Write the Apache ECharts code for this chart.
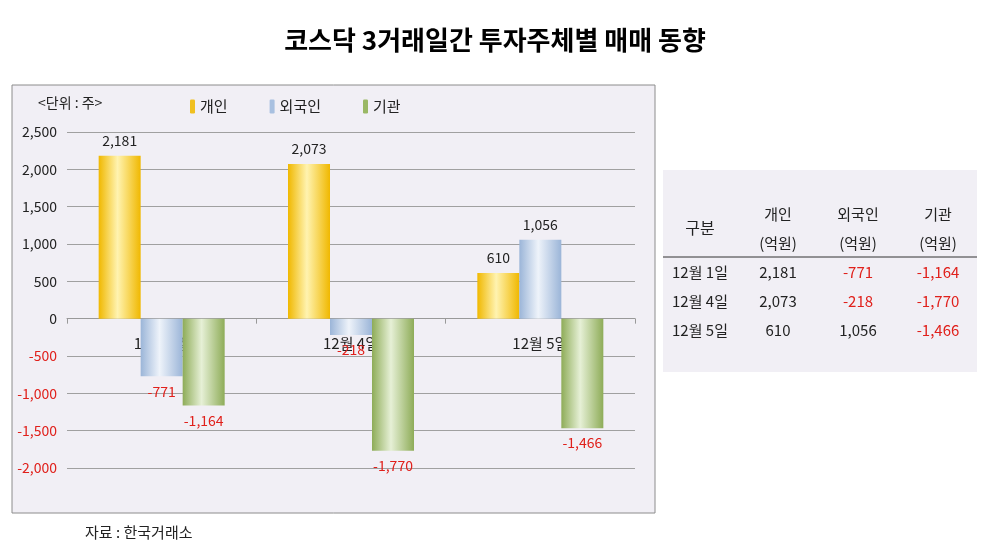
<!DOCTYPE html>
<html><head><meta charset="utf-8">
<script src="https://cdn.jsdelivr.net/npm/echarts@6/dist/echarts.min.js"></script>
<style>html,body{margin:0;background:#fff}#c{width:990px;height:560px}</style>
</head><body><div id="c"></div>
<script>
// 데이터
const categories = ['12월 1일', '12월 4일', '12월 5일']
const individual = [2181, 2073, 610]
const foreign = [-771, -218, 1056]
const institution = [-1164, -1770, -1466]
const seriesNames = ['개인', '외국인', '기관']

const font = 'Noto Sans CJK KR'
const grad = (dark, light) => new echarts.graphic.LinearGradient(0, 0, 1, 0, [
  { offset: 0, color: dark }, { offset: 0.45, color: light }, { offset: 1, color: dark }])
const colors = [grad('#f0b800', '#fff3b0'), grad('#9bb5d8', '#eef3fa'), grad('#8eac58', '#e6f0d6')]
const legendColors = ['#f0c020', '#a8c0e0', '#9ab865']

const fmt = v => v.toLocaleString('en-US')
const s = [individual, foreign, institution].map((d, i) => ({
  name: seriesNames[i], type: 'bar', barWidth: 42, barGap: '0%',
  itemStyle: { color: colors[i] },
  label: { show: true, fontFamily: font, fontSize: 14, formatter: p => fmt(p.value), color: '#222' },
  data: d.map(v => ({
    value: v,
    label: v < 0 ? { position: 'bottom', color: '#e0201b', distance: 8 } : { position: 'top', distance: 8 }
  }))
}))

// 표
const tableRows = [
  ['12월 1일', '2,181', '-771', '-1,164'],
  ['12월 4일', '2,073', '-218', '-1,770'],
  ['12월 5일', '610', '1,056', '-1,466'],
]
const colX = [700, 778, 858, 938]
const tableGraphics = [
  { type: 'rect', shape: { x: 663, y: 170, width: 314, height: 202 }, style: { fill: '#f1eff5' } },
  { type: 'line', shape: { x1: 663, y1: 257, x2: 977, y2: 257 }, style: { stroke: '#333', lineWidth: 1 } },
  { type: 'text', style: { text: '구분', x: colX[0], y: 228, align: 'center', verticalAlign: 'middle', font: `16px "${font}"`, fill: '#222' } },
]
;['개인', '외국인', '기관'].forEach((h, i) => {
  tableGraphics.push({ type: 'text', style: { text: h, x: colX[i + 1], y: 214, align: 'center', verticalAlign: 'middle', font: `15px "${font}"`, fill: '#222' } })
  tableGraphics.push({ type: 'text', style: { text: '(억원)', x: colX[i + 1], y: 243, align: 'center', verticalAlign: 'middle', font: `15px "${font}"`, fill: '#222' } })
})
tableRows.forEach((r, ri) => {
  r.forEach((t, ci) => {
    tableGraphics.push({ type: 'text', style: {
      text: t, x: colX[ci], y: 272 + ri * 29, align: 'center', verticalAlign: 'middle',
      font: `15px "${font}"`, fill: t.startsWith('-') ? '#e0201b' : '#222' } })
  })
})

const option = {
  backgroundColor: '#fff',
  animation: false,
  title: { text: '코스닥 3거래일간 투자주체별 매매 동향', left: 'center', top: 22,
    textStyle: { fontFamily: font, fontSize: 26, fontWeight: 'bold', color: '#000' } },
  legend: {
    top: 94, left: 185, itemGap: 42, itemWidth: 5, itemHeight: 14,
    data: seriesNames.map((n, i) => ({ name: n, itemStyle: { color: legendColors[i] } })),
    textStyle: { fontFamily: font, fontSize: 15, color: '#222' }
  },
  graphic: [
    { type: 'rect', z: -10, shape: { x: 12, y: 85, width: 643, height: 428 }, style: { fill: '#f1eff5', stroke: '#8c8c8c', lineWidth: 1 } },
    { type: 'text', style: { text: '<단위 : 주>', x: 38, y: 103, verticalAlign: 'middle', font: `14px "${font}"`, fill: '#222' } },
    { type: 'text', style: { text: '자료 : 한국거래소', x: 85, y: 532, verticalAlign: 'middle', font: `15px "${font}"`, fill: '#222' } },
    ...tableGraphics
  ],
  grid: { left: 67, right: 355, top: 132, bottom: 92 },
  xAxis: {
    type: 'category', data: categories,
    axisLine: { onZero: true, lineStyle: { color: '#999' } },
    axisTick: { show: true, length: 5, lineStyle: { color: '#999' } },
    axisLabel: { fontFamily: font, fontSize: 15, color: '#222', margin: -132 },
  },
  yAxis: {
    type: 'value', min: -2000, max: 2500, interval: 500,
    axisLine: { show: false }, axisTick: { show: false },
    splitLine: { lineStyle: { color: '#a0a0a0' } },
    axisLabel: { fontFamily: font, fontSize: 14, margin: 10,
      formatter: v => fmt(v),
      color: v => (v < 0 ? '#e0201b' : '#222') }
  },
  series: s
}
echarts.init(document.getElementById('c')).setOption(option)
</script></body></html>
